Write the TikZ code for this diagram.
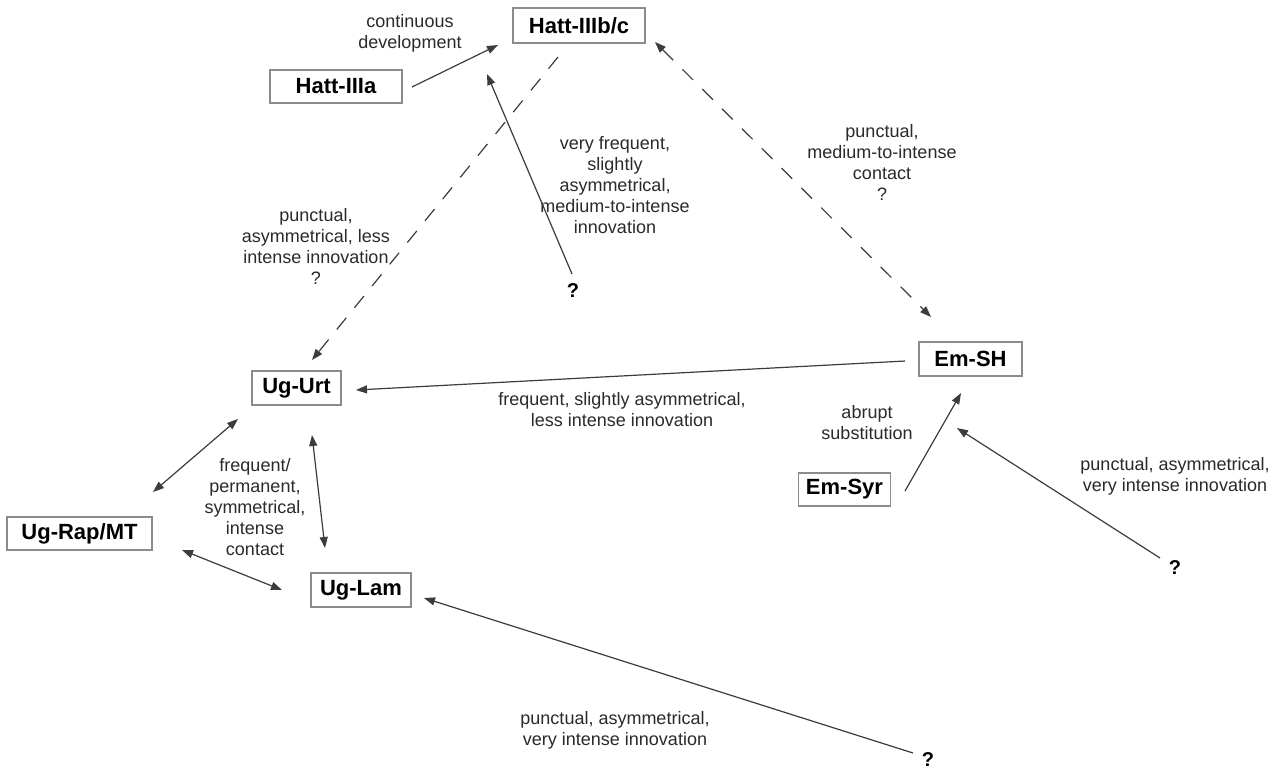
\documentclass[tikz,border=0pt]{standalone}
\usepackage{fontspec}
\setmainfont{Liberation Sans}
\usetikzlibrary{arrows.meta}
\definecolor{boxgray}{HTML}{8C8C8C}
\definecolor{linegray}{HTML}{3C3C3C}
\definecolor{txtgray}{HTML}{2A2A2A}
\tikzset{
  box/.style={draw=boxgray, line width=1.3pt, inner sep=0pt, font=\fontsize{22}{26}\selectfont\bfseries, text=black},
  lbl/.style={align=center, inner sep=0pt, font=\fontsize{18}{21}\selectfont, text=txtgray},
  qm/.style={inner sep=0pt, font=\fontsize{20}{24}\selectfont\bfseries, text=black},
  arr/.style={draw=linegray, line width=1.2pt, -{Triangle[length=11pt,width=8pt]}},
  biarr/.style={draw=linegray, line width=1.2pt, {Triangle[length=11pt,width=8pt]}-{Triangle[length=11pt,width=8pt]}},
  dsh/.style={dash pattern=on 15pt off 13pt}
}
\begin{document}
\begin{tikzpicture}[x=1pt,y=-1pt]
\useasboundingbox[fill=white] (0,0) rectangle (1279,769);
% boxes
\node[box, minimum width=132pt, minimum height=35pt] (hb)  at (579,25.5)   {Hatt-IIIb/c};
\node[box, minimum width=132pt, minimum height=33pt] (ha)  at (336,86.5)   {Hatt-IIIa};
\node[box, minimum width=89pt,  minimum height=34pt] (urt) at (296.5,388)   {Ug-Urt};
\node[box, minimum width=145pt, minimum height=33pt] (rap) at (79.5,533.5)  {Ug-Rap/MT};
\node[box, minimum width=100pt, minimum height=34pt] (lam) at (361,590)     {Ug-Lam};
\node[box, minimum width=103pt, minimum height=34pt] (sh)  at (970.5,359)   {Em-SH};
\node[box, minimum width=92pt,  minimum height=33pt] (syr) at (844.5,489.5) {Em-Syr};
% question marks
\node[qm] (q1) at (573,291) {?};
\node[qm] (q2) at (1175,568) {?};
\node[qm] (q3) at (928,760) {?};
% labels
\node[lbl] (l1) at (410,33) {continuous\\development};
\node[lbl] (l2) at (615,185) {very frequent,\\slightly\\asymmetrical,\\medium-to-intense\\innovation};
\node[lbl] (l3) at (316,246) {punctual,\\asymmetrical, less\\intense innovation\\?};
\node[lbl] (l4) at (882,162) {punctual,\\medium-to-intense\\contact\\?};
\node[lbl] (l5) at (622,410) {frequent, slightly asymmetrical,\\less intense innovation};
\node[lbl] (l6) at (867,423) {abrupt\\substitution};
\node[lbl] (l7) at (1175,476) {punctual, asymmetrical,\\very intense innovation};
\node[lbl] (l8) at (255,507) {frequent/\\permanent,\\symmetrical,\\intense\\contact};
\node[lbl] (l9) at (615,730) {punctual, asymmetrical,\\very intense innovation};
% connector end points
\coordinate (ha-o)  at (412,87);   \coordinate (hb-i1) at (498,45);
\coordinate (q1-o)  at (572,274);  \coordinate (hb-i2) at (487,74);
\coordinate (hb-o1) at (558,57);   \coordinate (urt-i1) at (312,360);
\coordinate (hb-o2) at (655,42);   \coordinate (sh-i1) at (931,317);
\coordinate (sh-o)  at (905,361);  \coordinate (urt-i2) at (356,390);
\coordinate (syr-o) at (905,491);  \coordinate (sh-i2) at (961,393);
\coordinate (q2-o)  at (1160,558); \coordinate (sh-i3) at (957,428);
\coordinate (urt-a) at (238,419);  \coordinate (rap-a) at (153,492);
\coordinate (urt-b) at (312,435);  \coordinate (lam-b) at (325,548);
\coordinate (rap-c) at (182,550);  \coordinate (lam-c) at (282,590);
\coordinate (q3-o)  at (913,753);  \coordinate (lam-i) at (424,598);
% connectors
\draw[arr] (ha-o) -- (hb-i1);
\draw[arr] (q1-o) -- (hb-i2);
\draw[arr, dsh] (hb-o1) -- (urt-i1);
\draw[biarr, dsh] (hb-o2) -- (sh-i1);
\draw[arr] (sh-o) -- (urt-i2);
\draw[arr] (syr-o) -- (sh-i2);
\draw[arr] (q2-o) -- (sh-i3);
\draw[biarr] (urt-a) -- (rap-a);
\draw[biarr] (urt-b) -- (lam-b);
\draw[biarr] (rap-c) -- (lam-c);
\draw[arr] (q3-o) -- (lam-i);
\end{tikzpicture}
\end{document}
